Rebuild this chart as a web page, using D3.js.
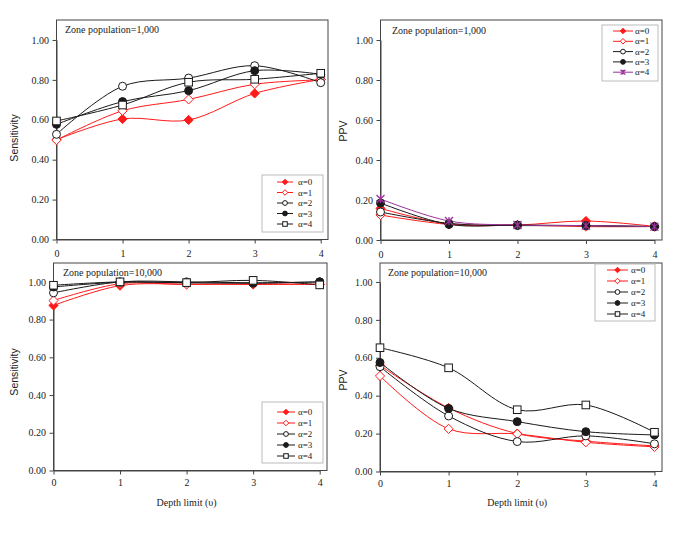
<!DOCTYPE html>
<html>
<head>
<meta charset="utf-8">
<script src="https://cdn.jsdelivr.net/npm/d3@7"></script>
<style>
  body { margin: 0; background: #fff; }
  svg { display: block; }
  .tick text { font-family: "Liberation Serif", "Times New Roman", serif; font-size: 10px; fill: #222; }
</style>
</head>
<body>
<svg id="chart" width="685" height="537"></svg>
<script>
// ---------- data ----------
const depths = [0, 1, 2, 3, 4];
const alphaLabels = ["α=0", "α=1", "α=2", "α=3", "α=4"];
const yTicks = [0, 0.2, 0.4, 0.6, 0.8, 1.0];

// Sensitivity, zone population = 1,000 (rows: α=0..4, columns: depth 0..4)
const sens1000 = [
  [0.500, 0.604, 0.599, 0.732, 0.802],
  [0.498, 0.645, 0.702, 0.778, 0.800],
  [0.527, 0.768, 0.809, 0.871, 0.786],
  [0.577, 0.691, 0.746, 0.846, 0.828],
  [0.594, 0.674, 0.788, 0.803, 0.833]
];
// PPV, zone population = 1,000
const ppv1000 = [
  [0.158, 0.080, 0.075, 0.095, 0.068],
  [0.125, 0.078, 0.075, 0.067, 0.067],
  [0.140, 0.083, 0.072, 0.072, 0.067],
  [0.185, 0.078, 0.075, 0.072, 0.067],
  [0.205, 0.095, 0.075, 0.072, 0.067]
];
// Sensitivity, zone population = 10,000
const sens10000 = [
  [0.875, 0.980, 0.988, 0.986, 0.988],
  [0.901, 0.990, 0.986, 0.990, 0.986],
  [0.942, 1.000, 1.000, 0.995, 1.000],
  [0.973, 0.998, 0.995, 0.993, 1.000],
  [0.982, 1.000, 0.996, 1.008, 0.984]
];
// PPV, zone population = 10,000
const ppv10000 = [
  [0.560, 0.335, 0.200, 0.160, 0.135],
  [0.504, 0.225, 0.198, 0.154, 0.130],
  [0.553, 0.293, 0.158, 0.188, 0.146],
  [0.575, 0.333, 0.263, 0.210, 0.193],
  [0.653, 0.547, 0.326, 0.351, 0.207]
];

// ---------- styles ----------
const RED = "#ff1a1a", BLACK = "#1a1a1a", PURPLE = "#993399";
const baseStyles = [
  { color: RED,   marker: "diamond", fill: RED },
  { color: RED,   marker: "diamond", fill: "#fff" },
  { color: BLACK, marker: "circle",  fill: "#fff" },
  { color: BLACK, marker: "circle",  fill: BLACK },
  { color: BLACK, marker: "square",  fill: "#fff" }
];
const starStyle = { color: PURPLE, marker: "star", fill: "none" };

// ---------- panels (layout) ----------
const panels = [
  { data: sens1000, ylab: "Sensitivity", note: "Zone population=1,000",
    box: [56.5, 328, 20, 239.5], ylabY: 138, xlabPad: 6.5, noteXY: [65, 33],
    legend: { x: 262, y: 175, w: 61, h: 57, y0: 182, dy: 10.5, l0: 277, l1: 293, tx: 298 },
    star: false, xtitle: false },
  { data: ppv1000, ylab: "PPV", note: "Zone population=1,000",
    box: [380.5, 662, 20, 240], ylabY: 131, xlabPad: 6.5, noteXY: [392, 34],
    legend: { x: 602, y: 25, w: 56, h: 56, y0: 31, dy: 10.3, l0: 613, l1: 633, tx: 635 },
    star: true, xtitle: false },
  { data: sens10000, ylab: "Sensitivity", note: "Zone population=10,000",
    box: [53.5, 327, 263, 470.5], ylabY: 372, xlabPad: 4.5, noteXY: [63, 276],
    legend: { x: 262, y: 402, w: 61, h: 61, y0: 412, dy: 11, l0: 277, l1: 295, tx: 298 },
    star: false, xtitle: true },
  { data: ppv10000, ylab: "PPV", note: "Zone population=10,000",
    box: [380, 662, 263, 471.5], ylabY: 380, xlabPad: 4.5, noteXY: [388, 276],
    legend: { x: 595, y: 264, w: 60, h: 57, y0: 270, dy: 11, l0: 607, l1: 628, tx: 631 },
    star: false, xtitle: true }
];

const svg = d3.select("#chart");

function drawMarker(g, type, x, y, r, color, fill) {
  if (type === "circle") {
    g.append("circle").attr("cx", x).attr("cy", y).attr("r", r)
      .attr("fill", fill).attr("stroke", color).attr("stroke-width", 1);
  } else if (type === "diamond") {
    const s = r * 1.15;
    g.append("path").attr("d", `M${x},${y - s}L${x + s},${y}L${x},${y + s}L${x - s},${y}Z`)
      .attr("fill", fill).attr("stroke", color).attr("stroke-width", 1);
  } else if (type === "square") {
    const s = r * 0.95;
    g.append("rect").attr("x", x - s).attr("y", y - s).attr("width", 2 * s).attr("height", 2 * s)
      .attr("fill", fill).attr("stroke", color).attr("stroke-width", 1);
  } else if (type === "star") {
    const s = r;
    g.append("path")
      .attr("d", `M${x - s},${y - s}L${x + s},${y + s}M${x - s},${y + s}L${x + s},${y - s}M${x},${y - s}L${x},${y + s}`)
      .attr("stroke", color).attr("stroke-width", 1.3).attr("fill", "none");
  }
}

panels.forEach(p => {
  const [x0, x1, y0, y1] = p.box;
  const xs = d3.scaleLinear().domain([0, 4]).range([x0, x0 + (x1 - x0) * 4 / 4.11]);
  const ys = d3.scaleLinear().domain([0, 1.0]).range([y1, y1 - (y1 - y0) / 1.10]);
  const g = svg.append("g");

  // frame
  g.append("rect").attr("x", x0).attr("y", y0).attr("width", x1 - x0).attr("height", y1 - y0)
    .attr("fill", "none").attr("stroke", "#444").attr("stroke-width", 1);

  // axes
  const xa = g.append("g").attr("transform", `translate(0,${y1})`)
    .call(d3.axisBottom(xs).tickValues(depths).tickFormat(d3.format("d"))
      .tickSize(4).tickSizeOuter(0).tickPadding(p.xlabPad));
  const ya = g.append("g").attr("transform", `translate(${x0},0)`)
    .call(d3.axisLeft(ys).tickValues(yTicks).tickFormat(d3.format(".2f"))
      .tickSize(4).tickSizeOuter(0).tickPadding(3.5));
  [xa, ya].forEach(a => {
    a.select(".domain").attr("stroke", "#444");
    a.selectAll(".tick line").attr("stroke", "#444");
  });

  // y title
  g.append("text").attr("transform", `translate(${x0 === 56.5 || x0 === 53.5 ? 18 : 347},${p.ylabY}) rotate(-90)`)
    .attr("text-anchor", "middle").attr("font-family", "'Liberation Sans', Arial, sans-serif")
    .attr("font-size", 10.5).attr("fill", "#222").text(p.ylab);

  // x title
  if (p.xtitle) {
    g.append("text").attr("x", (xs(0) + xs(4)) / 2).attr("y", 506)
      .attr("text-anchor", "middle").attr("font-family", "'Liberation Serif', 'Times New Roman', serif")
      .attr("font-size", 10).attr("fill", "#222").text("Depth limit (υ)");
  }

  // note
  g.append("text").attr("x", p.noteXY[0]).attr("y", p.noteXY[1])
    .attr("font-family", "'Liberation Serif', 'Times New Roman', serif")
    .attr("font-size", 10).attr("fill", "#222").text(p.note);

  // series
  const line = d3.line().x((d, i) => xs(depths[i])).y(d => ys(d)).curve(d3.curveCatmullRom.alpha(0.5));
  p.data.forEach((series, k) => {
    const st = (k === 4 && p.star) ? starStyle : baseStyles[k];
    g.append("path").datum(series).attr("d", line)
      .attr("fill", "none").attr("stroke", st.color).attr("stroke-width", 1);
  });
  p.data.forEach((series, k) => {
    const st = (k === 4 && p.star) ? starStyle : baseStyles[k];
    const mg = g.append("g");
    series.forEach((v, i) => drawMarker(mg, st.marker, xs(depths[i]), ys(v), 4, st.color, st.fill));
  });

  // legend
  const L = p.legend;
  const lg = g.append("g");
  lg.append("rect").attr("x", L.x).attr("y", L.y).attr("width", L.w).attr("height", L.h)
    .attr("fill", "#fff").attr("stroke", "#bbb").attr("stroke-width", 1);
  alphaLabels.forEach((lab, k) => {
    const st = (k === 4 && p.star) ? starStyle : baseStyles[k];
    const yy = L.y0 + k * L.dy;
    lg.append("line").attr("x1", L.l0).attr("x2", L.l1).attr("y1", yy).attr("y2", yy)
      .attr("stroke", st.color).attr("stroke-width", 1);
    drawMarker(lg, st.marker, (L.l0 + L.l1) / 2, yy, 2.4, st.color, st.fill);
    lg.append("text").attr("x", L.tx).attr("y", yy + 3)
      .attr("font-family", "'Liberation Serif', 'Times New Roman', serif")
      .attr("font-size", 9).attr("fill", "#222").text(lab);
  });
});
</script>
</body>
</html>
